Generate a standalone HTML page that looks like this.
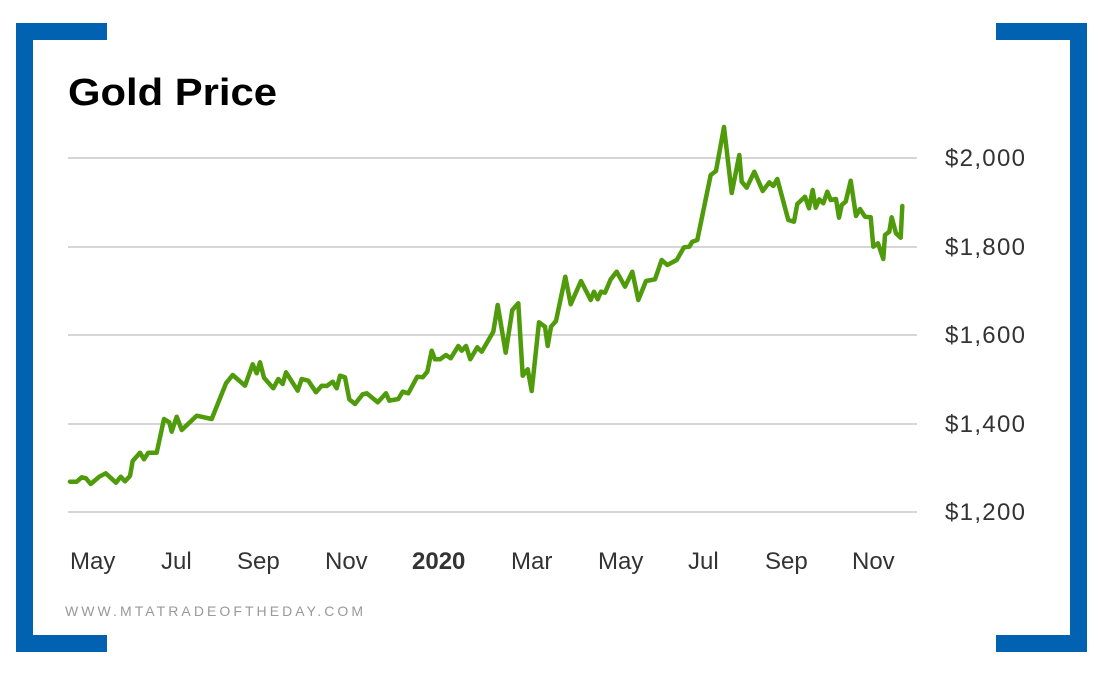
<!DOCTYPE html>
<html><head><meta charset="utf-8"><style>
html,body{margin:0;padding:0;background:#fff;}
body{width:1100px;height:673px;overflow:hidden;position:relative;font-family:"Liberation Sans",sans-serif;}
</style></head><body>
<svg width="1100" height="673" viewBox="0 0 1100 673" xmlns="http://www.w3.org/2000/svg" style="position:absolute;left:0;top:0">
<g fill="#0062b0">
<rect x="16" y="23" width="91" height="17"/><rect x="16" y="23" width="17" height="629"/><rect x="16" y="635" width="91" height="17"/>
<rect x="996" y="23" width="91" height="17"/><rect x="1070" y="23" width="17" height="629"/><rect x="996" y="635" width="91" height="17"/>
</g>
<text x="68" y="105" font-family="Liberation Sans, sans-serif" font-weight="bold" font-size="38" fill="#000" textLength="209" lengthAdjust="spacingAndGlyphs">Gold Price</text>
<g stroke="#bdbdbd" stroke-width="1.2">
<line x1="68" y1="158" x2="917" y2="158"/><line x1="68" y1="247" x2="917" y2="247"/><line x1="68" y1="335" x2="917" y2="335"/><line x1="68" y1="424" x2="917" y2="424"/><line x1="68" y1="512" x2="917" y2="512"/>
</g>
<g font-size="24" fill="#333" font-family="Liberation Sans, sans-serif">
<text x="945" y="166" textLength="80">$2,000</text><text x="945" y="255" textLength="80">$1,800</text><text x="945" y="343" textLength="80">$1,600</text><text x="945" y="432" textLength="80">$1,400</text><text x="945" y="520" textLength="80">$1,200</text>
<text x="70" y="569">May</text><text x="161" y="569">Jul</text><text x="237" y="569">Sep</text><text x="325" y="569">Nov</text><text x="412" y="569" font-weight="bold">2020</text><text x="511" y="569">Mar</text><text x="598" y="569">May</text><text x="688" y="569">Jul</text><text x="765" y="569">Sep</text><text x="852" y="569">Nov</text>
</g>
<text x="65" y="616" font-size="14" fill="#999" textLength="298" lengthAdjust="spacing" font-family="Liberation Sans, sans-serif">WWW.MTATRADEOFTHEDAY.COM</text>
<polyline fill="none" stroke="#4f9b0b" stroke-width="4.5" stroke-linejoin="round" stroke-linecap="round" points="70,481.7 76.7,481.7 81.7,477.3 86,478.3 90.7,484 99.3,476.7 105.7,473.3 116,482.7 120.7,476.7 125,481.3 130,476 132.7,461 140,452.7 144,459.3 148.3,452.7 156.7,452.7 164,419 169.3,422.3 171.7,431.7 176.7,416.7 181.7,430 196.7,415.7 211.7,419 226,383.3 232.7,375 245,385.7 252.7,364.3 256.7,373.3 260,362.3 264,377.7 273.3,388.3 278.3,379 282.7,384 286,372.3 297.7,390.7 301.7,379 308.3,380.7 316,392.3 321.7,385.7 326.7,386 332.7,381.7 336.7,388.3 340,375.7 345,377.3 349.3,399.3 355,404 362.7,394.3 366.7,393.3 377.7,402.3 386,393.3 389.3,400.7 398.3,399 402.7,391.7 408.3,393.3 417.3,376.7 422.7,377.3 427.3,371.7 431.7,350.7 435,359.3 440,359.3 446,355 450.7,358.3 458.3,346 461.7,350.7 466,346 470.3,359.3 477.3,347.3 481.7,351.7 493.3,331.7 497.7,305 505.7,352.7 512.3,310 518.3,303.3 522.7,375.7 527.7,369.3 531.7,391 539,322.3 545,326.7 547.7,346 551,326.7 556,321 565.3,276.7 570.7,304.3 581,281 590.7,300 594,291.7 597.7,299.3 601,291.7 605,292.7 610.7,279.3 616.7,271.7 625,286.7 632.3,271.7 638.3,300 646,281 655,279.3 661.7,260 667.3,265 676.7,260 684,247.3 689.3,246.7 692.3,241.7 697.3,240 710.7,175 716,171 724,127 731.7,193 739.3,155 741.7,181.7 746.7,187.7 754.3,171.7 762.7,191 769.3,182.3 773.3,186 777.3,179 788.3,220 794,221.7 797.3,204 805,196.7 809,208.3 812.7,190 815.7,207.7 819.3,199.3 823.3,203.3 827.3,191.7 830.7,200 836,199 839,217.7 841.7,205 845.7,201.7 850.7,180.7 856,216 860,209 865,216.7 870.7,217.3 873.3,246.7 878,243.3 883.3,259 885,235 889.3,231.7 891.7,217.3 896,233.3 900.7,237.7 902.3,206"/>
</svg>
</body></html>
